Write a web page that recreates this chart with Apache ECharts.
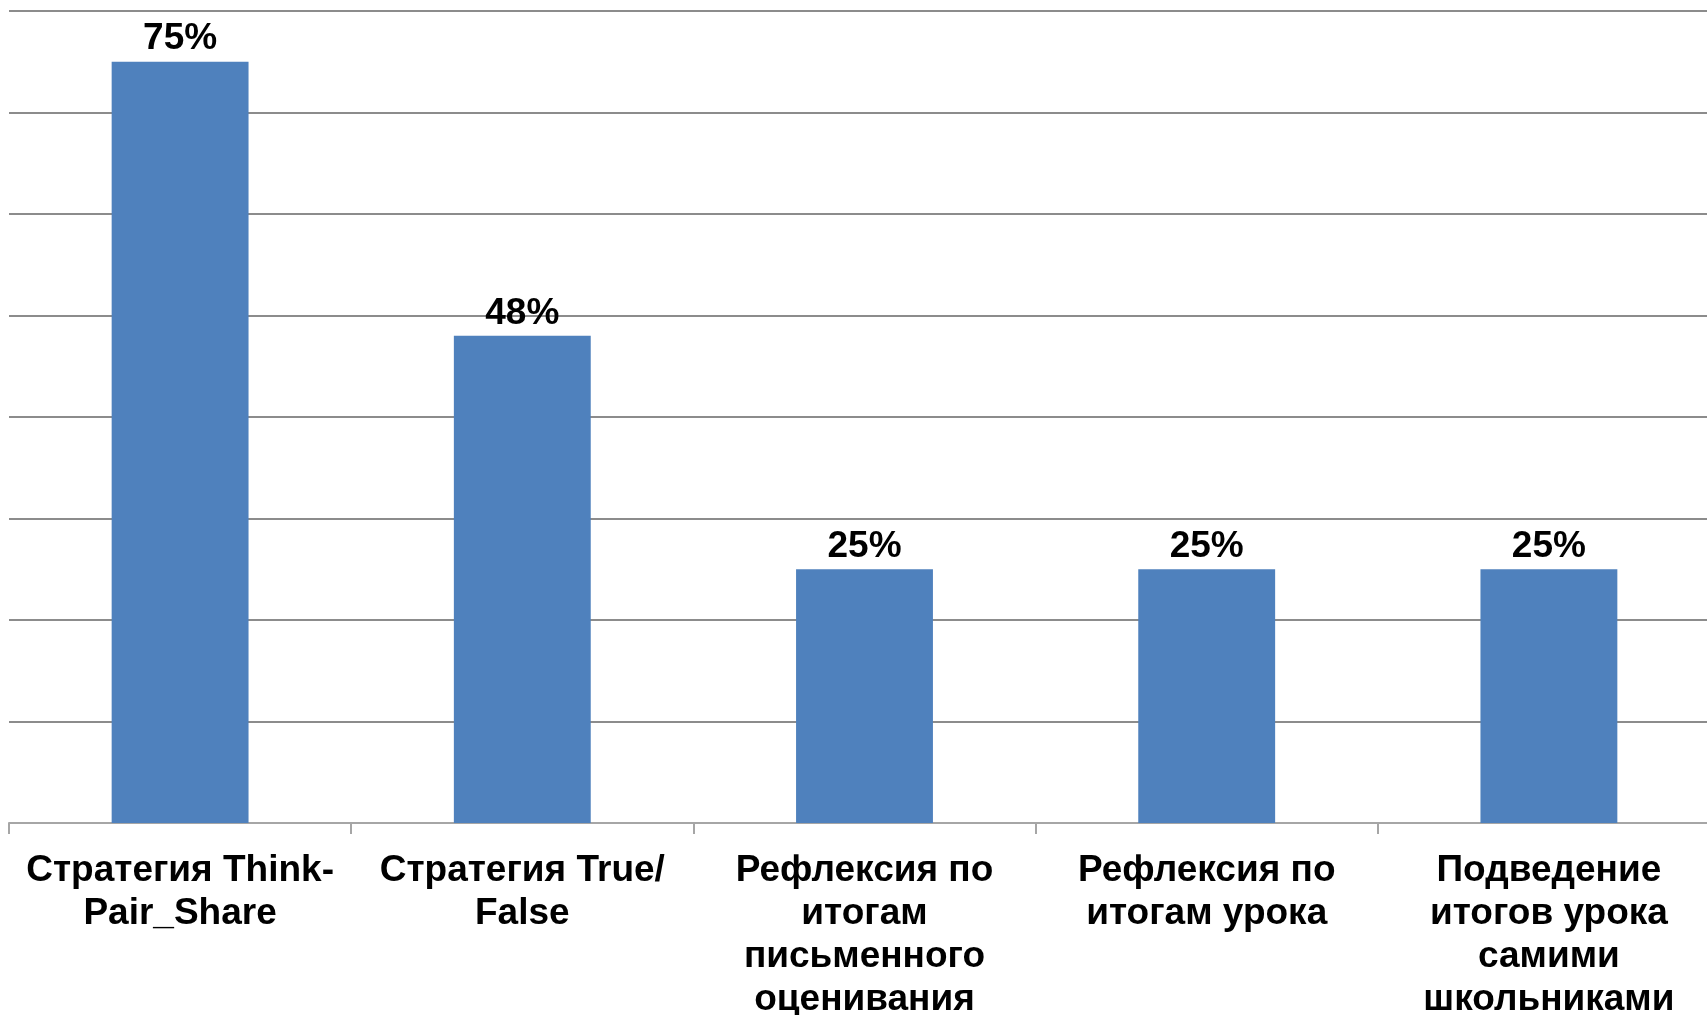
<!DOCTYPE html>
<html>
<head>
<meta charset="utf-8">
<script src="https://cdn.jsdelivr.net/npm/echarts@6/dist/echarts.min.js"></script>
<style>
html,body{margin:0;padding:0;background:#fff;overflow:hidden;}
#c{width:1707px;height:1015px;}
</style>
</head>
<body>
<div id="c"></div>
<script>
const categories = [
  'Стратегия Think-\nPair_Share',
  'Стратегия True/\nFalse',
  'Рефлексия по\nитогам\nписьменного\nоценивания',
  'Рефлексия по\nитогам урока',
  'Подведение\nитогов урока\nсамими\nшкольниками'
];
const values = [0.75, 0.48, 0.25, 0.25, 0.25];

const chart = echarts.init(document.getElementById('c'));
chart.setOption({
  backgroundColor: '#ffffff',
  animation: false,
  grid: { left: 9, width: 1711, top: 11, bottom: 192, containLabel: false, outerBoundsMode: 'none' },
  xAxis: {
    type: 'category',
    data: categories,
    axisLine: { show: true, lineStyle: { color: '#a6a6a6', width: 2 } },
    axisTick: { show: true, length: 11, lineStyle: { color: '#a6a6a6', width: 2 } },
    axisLabel: {
      interval: 0,
      margin: 26,
      color: '#000',
      fontFamily: 'Liberation Sans, Arial, sans-serif',
      fontWeight: 'bold',
      fontSize: 37,
      lineHeight: 43,
      align: 'center',
      hideOverlap: false
    }
  },
  yAxis: {
    type: 'value',
    min: 0,
    max: 0.8,
    interval: 0.1,
    axisLine: { show: false },
    axisTick: { show: false },
    axisLabel: { show: false },
    splitLine: { show: true, lineStyle: { color: '#8c8c8c', width: 2 } }
  },
  series: [{
    type: 'bar',
    data: values,
    barWidth: '40%',
    itemStyle: { color: '#4F81BD' },
    label: {
      show: true,
      position: 'top',
      distance: 4,
      color: '#000',
      fontFamily: 'Liberation Sans, Arial, sans-serif',
      fontWeight: 'bold',
      fontSize: 37,
      formatter: p => Math.round(p.value * 100) + '%'
    }
  }]
});
</script>
</body>
</html>
